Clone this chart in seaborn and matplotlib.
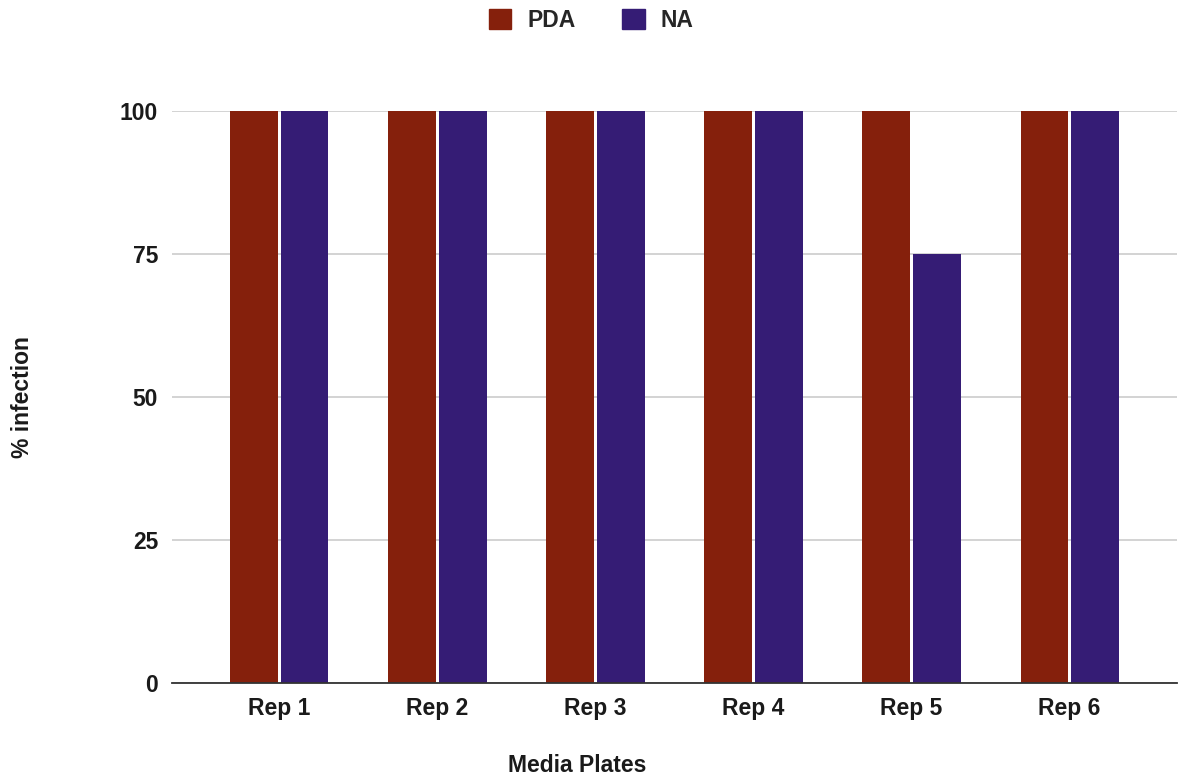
import matplotlib.pyplot as plt
import seaborn as sns
import pandas as pd

reps = ['Rep 1', 'Rep 2', 'Rep 3', 'Rep 4', 'Rep 5', 'Rep 6']
pda = [100, 100, 100, 100, 100, 100]
na = [100, 100, 100, 100, 75, 100]
yticks = [0, 25, 50, 75, 100]
colors = {'PDA': '#85200C', 'NA': '#351C75'}

df = pd.DataFrame({'rep': reps * 2,
                   'media': ['PDA'] * len(reps) + ['NA'] * len(reps),
                   'value': pda + na})

sns.set_style('white')
plt.rcParams['font.family'] = ['Liberation Sans', 'DejaVu Sans']
FS = 16.5

fig = plt.figure(figsize=(11.82, 7.8), dpi=100)
ax = fig.add_axes([0.1455, 0.1244, 0.8503, 0.7333])

sns.barplot(df, x='rep', y='value', hue='media', palette=colors, width=0.64,
            gap=0.06, saturation=1, linewidth=0, ax=ax, legend=False)

ax.set_ylim(0, 100)
ax.set_xlim(-0.68, 5.68)
ax.set_yticks(yticks)
ax.yaxis.grid(True, color='#cccccc', lw=1.2)
ax.set_axisbelow(True)
for s in ['top', 'right', 'left']:
    ax.spines[s].set_visible(False)
ax.spines['bottom'].set_color('#333333')
ax.spines['bottom'].set_linewidth(1.3)
ax.tick_params(axis='x', length=0, labelsize=FS, pad=10)
ax.tick_params(axis='y', length=0, labelsize=FS, pad=10)
for lbl in ax.get_xticklabels() + ax.get_yticklabels():
    lbl.set_fontweight('bold')
    lbl.set_color('#1a1a1a')
ax.set_xlabel('')
ax.set_ylabel('')
fig.text(0.488, 0.018, 'Media Plates', ha='center', va='center',
         fontsize=FS, fontweight='bold', color='#1a1a1a')
fig.text(0.019, 0.491, '% infection', ha='center', va='center', rotation=90,
         fontsize=FS, fontweight='bold', color='#1a1a1a')

handles = [plt.Rectangle((0, 0), 1, 1, color=colors[k]) for k in colors]
fig.legend(handles, list(colors), loc='center', bbox_to_anchor=(0.5, 0.974),
           ncol=2, frameon=False, prop={'weight': 'bold', 'size': FS},
           handlelength=1.0, handleheight=1.0, columnspacing=2.0, handletextpad=0.7)

fig.savefig('out.png', dpi=100)
